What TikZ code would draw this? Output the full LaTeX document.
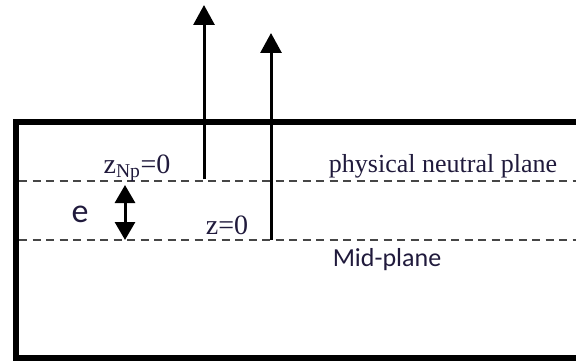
\documentclass[tikz,border=0pt]{standalone}
\usepackage{fontspec}
\setmainfont{Liberation Serif}
\newfontfamily\labelsans{Carlito}
\usepackage{tikz}
\usetikzlibrary{arrows.meta}
\definecolor{inktext}{RGB}{32,26,60}
\definecolor{planeline}{RGB}{70,70,70}

\begin{document}
\begin{tikzpicture}[
  x=1pt, y=-1pt,
  every node/.style={inner sep=0pt, anchor=base, font=\fontsize{26}{30}\selectfont, text=inktext},
  zlabel/.style={font=\fontsize{28}{32}\selectfont},
  arr/.style={-{Triangle[length=20pt, width=21pt]}, line width=3pt},
  dbl/.style={{Triangle[length=18pt, width=20pt]}-{Triangle[length=18pt, width=20pt]}, line width=3pt},
  plane/.style={dash pattern=on 8pt off 5.5pt, line width=2.2pt, color=planeline},
  frame/.style={line width=5.5pt}
]
\useasboundingbox (0,0) rectangle (576,361);

% Plate
\coordinate (tr) at (578,122);
\coordinate (tl) at (16,122);
\coordinate (bl) at (16,358);
\coordinate (br) at (578,358);
\draw[frame] (tr) -- (tl) -- (bl) -- (br);

% Planes
\coordinate (np west) at (19,181);
\coordinate (np east) at (576,181);
\coordinate (mid west) at (19,240);
\coordinate (mid east) at (576,240);
\draw[plane] (np west) -- (np east);
\draw[plane] (mid west) -- (mid east);

% Axes
\coordinate (np foot) at (204,179);
\coordinate (np tip) at (204,5);
\coordinate (mid foot) at (271,240);
\coordinate (mid tip) at (271,33);
\draw[arr] (np foot) -- (np tip);
\draw[arr] (mid foot) -- (mid tip);

% Offset e
\coordinate (e top) at (125,185);
\coordinate (e bot) at (125,240);
\draw[dbl] (e top) -- (e bot);

% Labels
\node[zlabel] (znp) at (137,173) {z\textsubscript{Np}=0};
\node[zlabel] (zmid) at (227,234) {z=0};
\node (npl) at (443,172) {physical neutral plane};
\node (midl) at (387,266) {\labelsans Mid-plane};
\node (e) at (80,222) {\labelsans\fontsize{34}{40}\selectfont e};

\end{tikzpicture}
\end{document}
